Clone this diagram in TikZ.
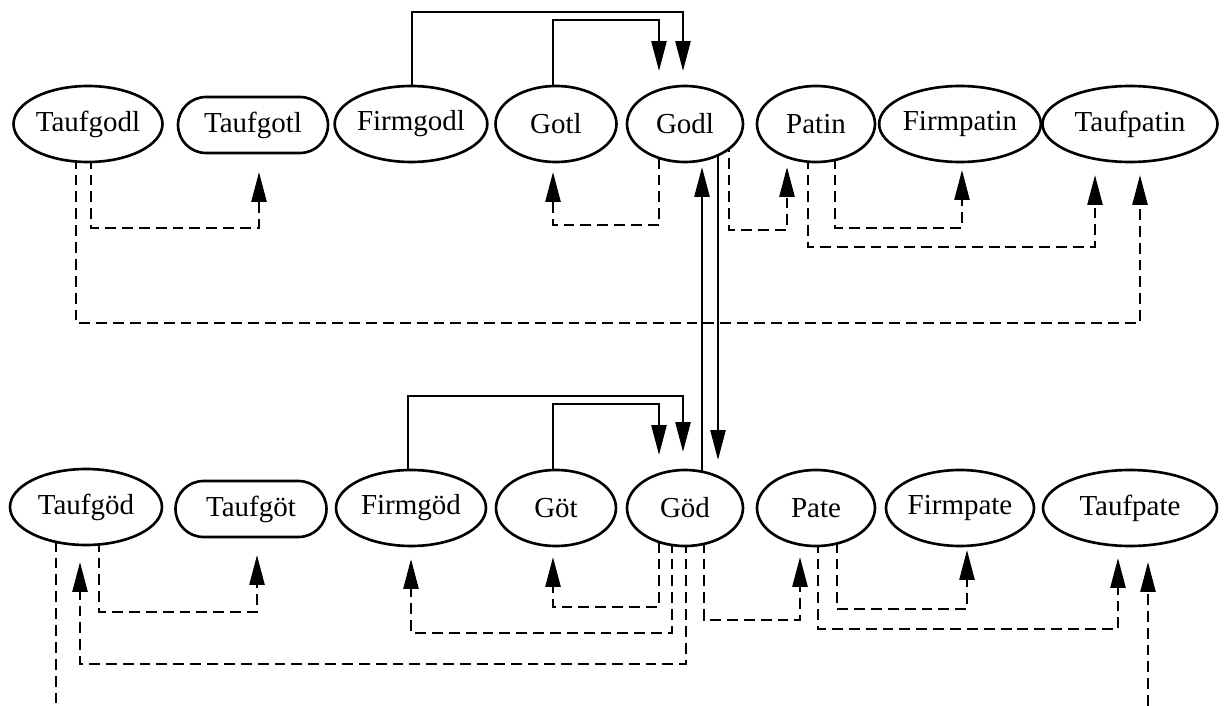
\documentclass[tikz,border=0pt]{standalone}
\usepackage{fontspec}
\setmainfont{Liberation Serif}
\usetikzlibrary{arrows.meta,shapes.geometric,backgrounds}

\tikzset{
  word/.style={ellipse, draw, line width=1.5pt, fill=white, inner sep=0pt,
    minimum height=1.52cm, font=\fontsize{16.5}{18}\selectfont},
  wordbox/.style={word, rectangle, rounded corners=0.56cm, minimum height=1.12cm},
  rel/.style={line width=1.5pt, -{Triangle[length=17pt,width=8.5pt]}},
  dep/.style={rel, dash pattern=on 6.2pt off 3.4pt},
}

\begin{document}
\begin{tikzpicture}[x=0.02cm, y=-0.02cm]
    \useasboundingbox (0,0) rectangle (1225,706);

    % upper row
    \node[word, minimum width=2.98cm] (tgodl) at (88,124) {Taufgodl};
    \node[wordbox, minimum width=3.0cm] (tgotl) at (253,125) {Taufgotl};
    \node[word, minimum width=3.0cm] (fgodl) at (411,124) {Firmgodl};
    \node[word, minimum width=2.42cm] (gotl) at (556,124) {Gotl};
    \node[word, minimum width=2.32cm] (godl) at (685,124) {Godl};
    \node[word, minimum width=2.36cm] (patin) at (816,124) {Patin};
    \node[word, minimum width=2.92cm] (fpatin) at (960,124) {Firmpatin};
    \node[word, minimum width=3.5cm] (tpatin) at (1130,124) {Taufpatin};

    % lower row
    \node[word, minimum width=3.04cm] (tgoed) at (86,507) {Taufgöd};
    \node[wordbox, minimum width=3.02cm] (tgoet) at (251,509) {Taufgöt};
    \node[word, minimum width=3.0cm] (fgoed) at (411,508) {Firmgöd};
    \node[word, minimum width=2.4cm] (goet) at (556,508) {Göt};
    \node[word, minimum width=2.32cm] (goed) at (685,508) {Göd};
    \node[word, minimum width=2.36cm] (pate) at (816,508) {Pate};
    \node[word, minimum width=2.92cm] (fpate) at (960,508) {Firmpate};
    \node[word, minimum width=3.48cm] (tpate) at (1130,508) {Taufpate};

    \coordinate (lowleft) at (56,706);
    \coordinate (lowright) at (1148,706);

    \begin{scope}[on background layer]
    % upper row
    \draw[rel] ([shift={(1,0)}]fgodl.center) |- (683,12) -- ([shift={(-2,-53)}]godl.center);
    \draw[rel] ([shift={(-3,0)}]gotl.center) |- (659,20) -- ([shift={(-26,-53)}]godl.center);
    \draw[dep] ([shift={(3,0)}]tgodl.center) |- (259,228) -- ([shift={(6,47)}]tgotl.center);
    \draw[dep] ([shift={(-12,0)}]tgodl.center) |- (1140,323) -- ([shift={(10,51)}]tpatin.center);
    \draw[dep] ([shift={(-26,0)}]godl.center) |- (553,225) -- ([shift={(-3,48)}]gotl.center);
    \draw[dep] ([shift={(44,0)}]godl.center) |- (787,230) -- ([shift={(-29,43)}]patin.center);
    \draw[dep] ([shift={(19,0)}]patin.center) |- (962,228) -- ([shift={(2,46)}]fpatin.center);
    \draw[dep] ([shift={(-8,0)}]patin.center) |- (1095,247) -- ([shift={(-35,51)}]tpatin.center);

    % between the rows
    \draw[rel] ([shift={(17,0)}]goed.center) -- ([shift={(17,43)}]godl.center);
    \draw[rel] ([shift={(33,0)}]godl.center) -- ([shift={(33,-48)}]goed.center);

    % lower row
    \draw[rel] ([shift={(-3,0)}]fgoed.center) |- (683,396) -- ([shift={(-2,-56)}]goed.center);
    \draw[rel] ([shift={(-3,0)}]goet.center) |- (659,404) -- ([shift={(-26,-53)}]goed.center);
    \draw[dep] ([shift={(13,0)}]tgoed.center) |- (257,612) -- ([shift={(6,46)}]tgoet.center);
    \draw[dep, -] ([shift={(-30,0)}]tgoed.center) -- (lowleft);
    \draw[dep] ([shift={(1,0)}]goed.center) |- (80,664) -- ([shift={(-6,55)}]tgoed.center);
    \draw[dep] ([shift={(-26,0)}]goed.center) |- (553,607) -- ([shift={(-3,49)}]goet.center);
    \draw[dep] ([shift={(-13,0)}]goed.center) |- (411,633) -- ([shift={(0,51)}]fgoed.center);
    \draw[dep] ([shift={(19,0)}]goed.center) |- (800,620) -- ([shift={(-16,49)}]pate.center);
    \draw[dep] ([shift={(21,0)}]pate.center) |- (967,609) -- ([shift={(7,42)}]fpate.center);
    \draw[dep] ([shift={(2,0)}]pate.center) |- (1118,629) -- ([shift={(-12,50)}]tpate.center);
    \draw[dep] (lowright) -- ([shift={(18,54)}]tpate.center);
    \end{scope}

\end{tikzpicture}
\end{document}
